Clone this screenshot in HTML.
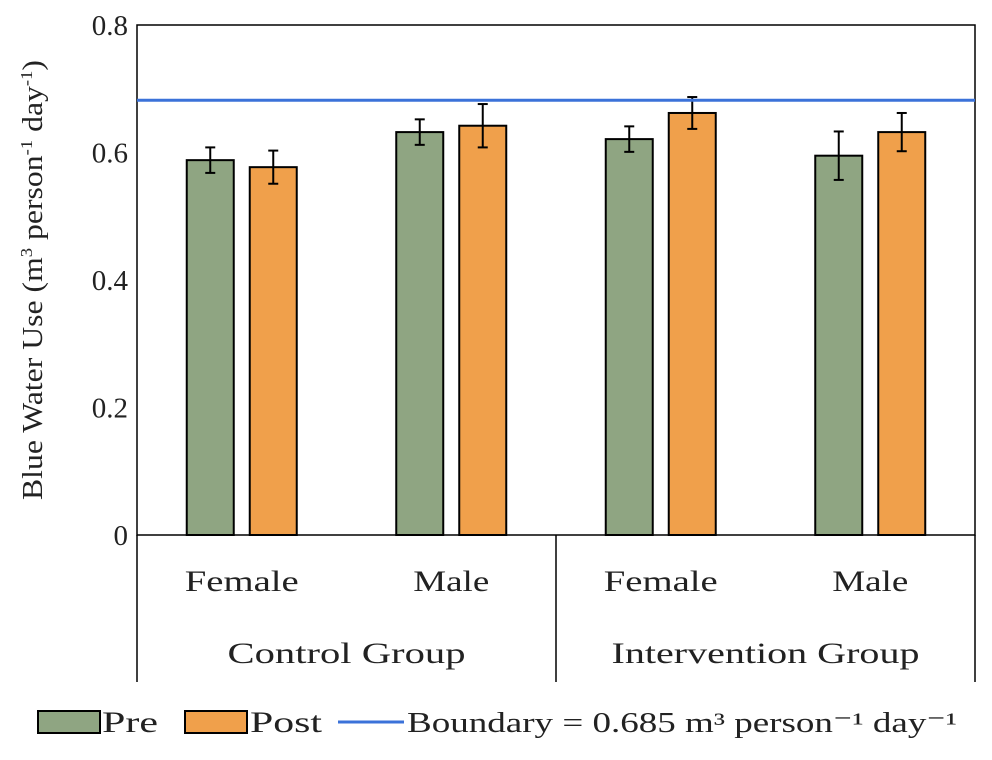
<!DOCTYPE html>
<html><head><meta charset="utf-8"><style>
body{margin:0;background:#fff;}
svg{display:block;font-family:"Liberation Serif",serif;}
</style></head><body>
<svg id="chart" width="992" height="760" xmlns="http://www.w3.org/2000/svg"></svg>
<script>
const categories=["Female","Male","Female","Male"];
const groups=["Control Group","Intervention Group"];
const preValues=[0.588,0.632,0.621,0.595];
const postValues=[0.577,0.642,0.662,0.632];
const preErrors=[0.02,0.02,0.02,0.038];
const postErrors=[0.026,0.034,0.025,0.03];
const yTicks=[0,0.2,0.4,0.6,0.8];
const yTickLabels=["0","0.2","0.4","0.6","0.8"];
const boundary=0.682;

const NS="http://www.w3.org/2000/svg";
const svg=document.getElementById('chart');
const L=137,R=975,T=25,B=535;
const y=v=>B-(v/0.8)*(B-T);
const catW=(R-L)/4;
const cx=i=>L+catW*(i+0.5);
function el(tag,attrs,parent){const e=document.createElementNS(NS,tag);for(const k in attrs)e.setAttribute(k,attrs[k]);(parent||svg).appendChild(e);return e;}

const frame=el('rect',{x:L,y:T,width:R-L,height:B-T,fill:'none',stroke:'#000','stroke-width':1.5});



yTicks.forEach((t,i)=>{
  const tx=el('text',{x:L-9,y:y(t)+10,'text-anchor':'end','font-size':29,fill:'#222'});
  tx.textContent=yTickLabels[i];
  
  
});
const yt=el('text',{transform:'translate(42,280) rotate(-90)','text-anchor':'middle','font-size':29,fill:'#222',textLength:440,lengthAdjust:'spacingAndGlyphs'});
yt.innerHTML='Blue Water Use (m<tspan dy="-10" font-size="17">3</tspan><tspan dy="10"> person</tspan><tspan dy="-10" font-size="17">-1</tspan><tspan dy="10"> day</tspan><tspan dy="-10" font-size="17">-1</tspan><tspan dy="10">)</tspan>';



const bw=47;
function bar(i,v,e,color,off,name){
  const x=cx(i)+off;
  const r=el('rect',{x:x,y:y(v),width:bw,height:B-y(v),fill:color,stroke:'#000','stroke-width':2});
  
  
  const m=x+bw/2;
  const g=el('g',{stroke:'#000','stroke-width':2});
  
  
  el('line',{x1:m,x2:m,y1:y(v+e),y2:y(v-e)},g);
  el('line',{x1:m-5,x2:m+5,y1:y(v+e),y2:y(v+e)},g);
  el('line',{x1:m-5,x2:m+5,y1:y(v-e),y2:y(v-e)},g);
}
categories.forEach((c,i)=>{
  bar(i,preValues[i],preErrors[i],'#8fa582',-55,'bar-pre-'+i);
  bar(i,postValues[i],postErrors[i],'#f0a04b',8,'bar-post-'+i);
  const t=el('text',{x:cx(i),y:591,'text-anchor':'middle','font-size':30,fill:'#222',textLength:c==='Female'?114:76,lengthAdjust:'spacingAndGlyphs'});
  t.textContent=c;
  
  
});
const bl=el('line',{x1:L,x2:R,y1:y(boundary),y2:y(boundary),stroke:'#3b72d9','stroke-width':3});


[L,(L+R)/2,R].forEach(x=>{
  const l=el('line',{x1:x,x2:x,y1:B,y2:682,stroke:'#000','stroke-width':1.5});
  
  
});
groups.forEach((g,i)=>{
  const t=el('text',{x:L+(R-L)/4*(2*i+1),y:663,'text-anchor':'middle','font-size':30,fill:'#222',textLength:i===0?238:308,lengthAdjust:'spacingAndGlyphs'});
  t.textContent=g;
  
  
});
const lg=el('g',{});


const r1=el('rect',{x:38,y:711,width:62,height:22,fill:'#8fa582',stroke:'#000','stroke-width':2},lg);


const t1=el('text',{x:102,y:732,'font-size':30,fill:'#222',textLength:56,lengthAdjust:'spacingAndGlyphs'},lg);t1.textContent='Pre';


const r2=el('rect',{x:185,y:711,width:62,height:22,fill:'#f0a04b',stroke:'#000','stroke-width':2},lg);


const t2=el('text',{x:250,y:732,'font-size':30,fill:'#222',textLength:72,lengthAdjust:'spacingAndGlyphs'},lg);t2.textContent='Post';


const l3=el('line',{x1:338,x2:404,y1:722,y2:722,stroke:'#3b72d9','stroke-width':3},lg);


const t3=el('text',{x:407,y:732,'font-size':28,fill:'#222',textLength:550,lengthAdjust:'spacingAndGlyphs'},lg);t3.textContent='Boundary = 0.685  m³ person⁻¹ day⁻¹';


</script>
</body></html>
